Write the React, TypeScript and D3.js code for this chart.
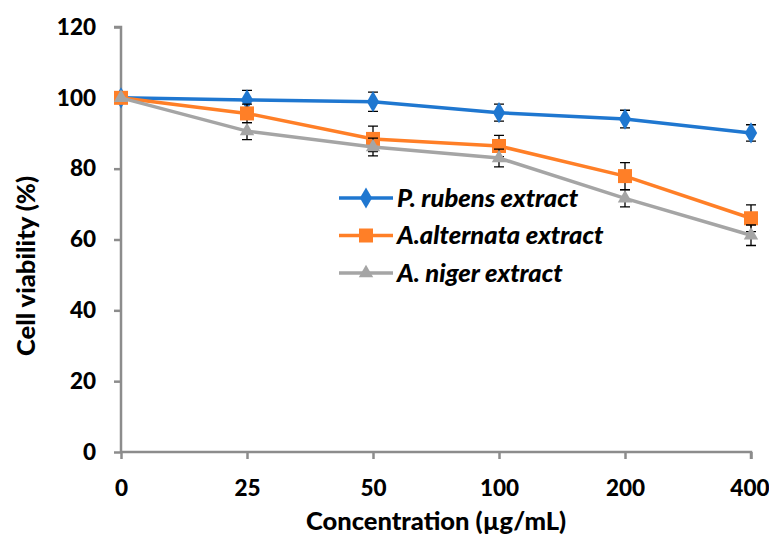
import React, { useEffect, useRef } from "react";
import * as d3 from "d3";

const categories = ["0", "25", "50", "100", "200", "400"];
const rubens = [100, 99.4, 98.9, 95.8, 94.0, 90.1];
const rubensErr = [0, 2.7, 2.7, 2.4, 2.5, 2.3];
const alternata = [100, 95.6, 88.4, 86.4, 77.9, 66.0];
const alternataErr = [0, 2.6, 3.6, 3.0, 3.8, 3.8];
const niger = [100, 90.6, 86.1, 83.0, 71.6, 61.2];
const nigerErr = [0, 2.4, 2.5, 2.5, 2.4, 2.9];
const yTicks = [0, 20, 40, 60, 80, 100, 120];

const series = [
  { name: "P. rubens extract", values: rubens, errs: rubensErr, color: "#1f77d0", marker: "diamond" },
  { name: "A.alternata extract", values: alternata, errs: alternataErr, color: "#ff7f27", marker: "square" },
  { name: "A. niger extract", values: niger, errs: nigerErr, color: "#a5a5a5", marker: "triangle" },
];

const FONT = "Lato, 'Open Sans', sans-serif";

const App = () => {
  const ref = useRef<SVGSVGElement>(null);

  useEffect(() => {
    const svg = d3.select(ref.current);
    svg.selectAll("*").remove();

    const x = d3.scalePoint().domain(categories).range([121, 751]);
    const y = d3.scaleLinear().domain([0, 120]).range([452, 27]);
    const axisColor = "#8c8c8c";

    // y axis
    const yAxis = svg.append("g").attr("transform", "translate(121,0)")
      .call(d3.axisLeft(y).tickValues(yTicks).tickSize(7).tickPadding(18));
    // x axis
    const xAxis = svg.append("g").attr("transform", "translate(0,452)")
      .call(d3.axisBottom(x).tickSize(7).tickPadding(21));
    [yAxis, xAxis].forEach(a => {
      a.select(".domain").attr("stroke", axisColor).attr("stroke-width", 2.5);
      a.selectAll(".tick line").attr("stroke", axisColor).attr("stroke-width", 2.5);
      a.selectAll(".tick text")
        .attr("fill", "#000")
        .style("font-family", FONT)
        .style("font-weight", "900")
        .style("font-size", "22.5px");
    });
    yAxis.select(".domain").attr("d", "M-7,27H0V452");
    xAxis.select(".domain").attr("d", "M121,0H751V7");
    // keep the last label inside the frame
    xAxis.selectAll(".tick text").filter(d => d === "400").attr("text-anchor", "end").attr("dx", 18);

    const line = d3.line<number>()
      .x((d, i) => x(categories[i]) as number)
      .y(d => y(d));

    const markerPath = (m: string) => {
      if (m === "diamond") return d3.symbol(d3.symbolDiamond, 130)();
      if (m === "square") return "M-7,-7H7V7H-7Z";
      return d3.symbol(d3.symbolTriangle, 90)();
    };

    series.forEach(s => {
      const g = svg.append("g");
      g.append("path")
        .attr("d", line(s.values))
        .attr("fill", "none")
        .attr("stroke", s.color)
        .attr("stroke-width", 3.5);
      s.values.forEach((v, i) => {
        if (!s.errs[i]) return;
        const cx = x(categories[i]) as number;
        const y1 = y(v + s.errs[i]);
        const y2 = y(v - s.errs[i]);
        g.append("path")
          .attr("d", `M${cx},${y1}V${y2}M${cx - 5},${y1}H${cx + 5}M${cx - 5},${y2}H${cx + 5}`)
          .attr("stroke", "#000")
          .attr("stroke-width", 1.3)
          .attr("fill", "none");
      });
      s.values.forEach((v, i) => {
        g.append("path")
          .attr("d", markerPath(s.marker))
          .attr("transform", `translate(${x(categories[i])},${y(v)})`)
          .attr("fill", s.color);
      });
    });

    // legend
    const lg = svg.append("g");
    series.forEach((s, i) => {
      const ly = 198 + i * 37.5;
      lg.append("line")
        .attr("x1", 339).attr("x2", 393).attr("y1", ly).attr("y2", ly)
        .attr("stroke", s.color).attr("stroke-width", 3.5);
      lg.append("path")
        .attr("d", markerPath(s.marker))
        .attr("transform", `translate(366,${ly})`)
        .attr("fill", s.color);
      lg.append("text")
        .attr("x", 397).attr("y", ly).attr("dy", "0.35em")
        .style("font-family", FONT)
        .style("font-weight", "900")
        .style("font-style", "italic")
        .style("font-size", "25.5px")
        .text(s.name);
    });

    svg.append("text")
      .attr("x", 436).attr("y", 530)
      .attr("text-anchor", "middle")
      .style("font-family", FONT)
      .style("font-weight", "900")
      .style("font-size", "25.5px")
      .text("Concentration (µg/mL)");

    svg.append("text")
      .attr("transform", "translate(35,266) rotate(-90)")
      .attr("text-anchor", "middle")
      .style("font-family", FONT)
      .style("font-weight", "900")
      .style("font-size", "25.5px")
      .text("Cell viability (%)");
  }, []);

  return (
    <svg ref={ref} width={769} height={540} style={{ position: "absolute", left: 0, top: 0, background: "#fff" }} />
  );
};

export default App;
